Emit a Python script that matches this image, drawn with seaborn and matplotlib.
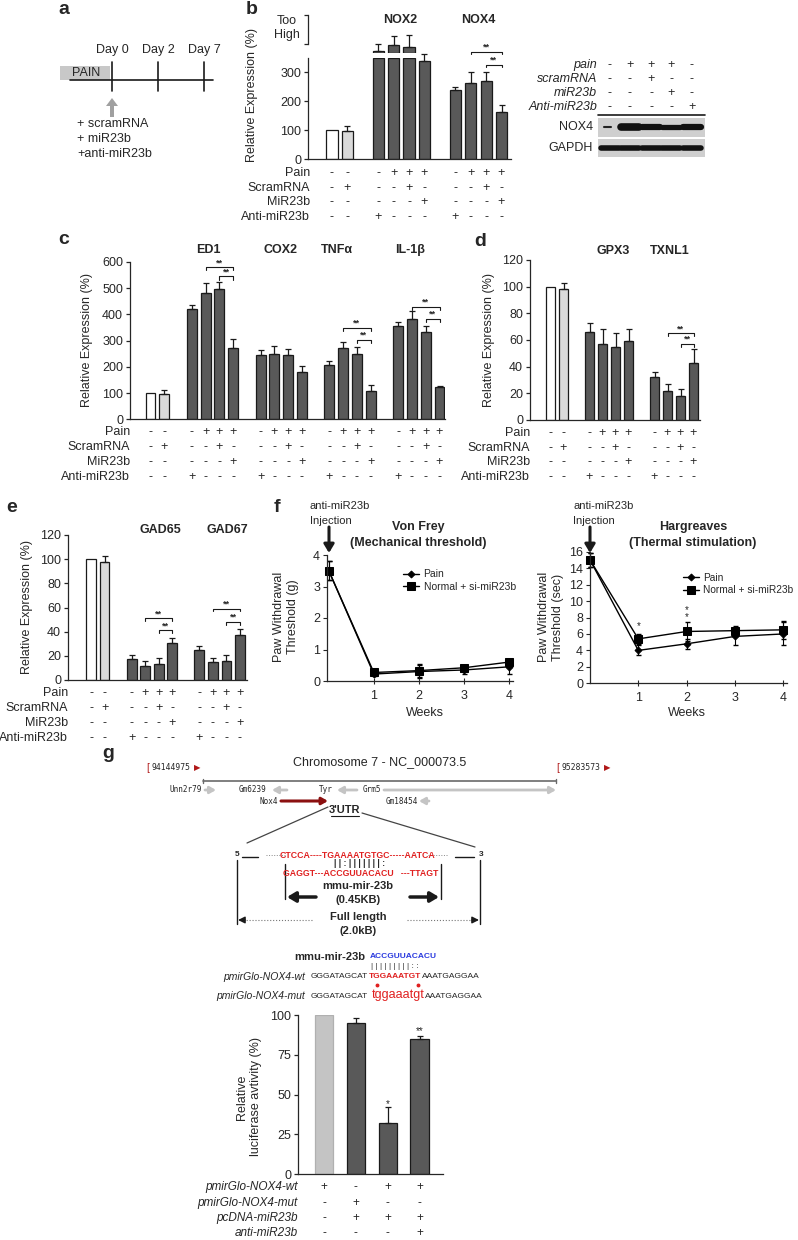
import numpy as np
import pandas as pd
import seaborn as sns
import matplotlib.pyplot as plt
from matplotlib import transforms

# ------------------------------ DATOS ------------------------------
# b: NOX2 / NOX4 (%); las tres primeras barras de NOX2 salen de escala ("Too High")
b_pos = [0, 1, 3, 4, 5, 6, 8, 9, 10, 11]
b_vals = [100, 97, 350, 350, 350, 338, 238, 263, 271, 162]
b_err = [0, 18, 0, 0, 0, 25, 12, 37, 32, 25]
b_over_pos = [3, 4, 5]
b_over_vals = [2.5, 8, 6]
b_over_err = [7, 9, 12]

# c: ED1, COX2, TNFa, IL-1b
c_pos = [0, 1, 3, 4, 5, 6, 8, 9, 10, 11, 13, 14, 15, 16, 18, 19, 20, 21]
c_vals = [100, 98, 420, 483, 497, 273, 245, 250, 245, 182, 207, 272, 250, 107, 357, 382, 332, 122]
c_err = [0, 15, 15, 35, 25, 32, 20, 30, 22, 22, 17, 22, 27, 22, 15, 30, 22, 5]

# d: GPX3, TXNL1
d_pos = [0, 1, 3, 4, 5, 6, 8, 9, 10, 11]
d_vals = [100, 98, 66, 57, 55, 59, 32, 22, 18, 43]
d_err = [0, 5, 7, 11, 10, 9, 4, 5, 5, 10]

# e: GAD65, GAD67
e_pos = [0, 1, 3, 4, 5, 6, 8, 9, 10, 11]
e_vals = [100, 98, 17, 12, 13, 31, 25, 15, 16, 37]
e_err = [0, 5, 4, 4, 5, 4, 3, 3, 5, 5]

# f: semanas tras la inyección
weeks = [0, 1, 2, 3, 4]
vf_pain = [3.5, 0.22, 0.30, 0.35, 0.45]
vf_pain_err = [0.3, 0.05, 0.2, 0.12, 0.22]
vf_si = [3.5, 0.27, 0.33, 0.42, 0.60]
vf_si_err = [0.3, 0.05, 0.2, 0.10, 0.10]
hg_pain = [15.0, 4.0, 4.8, 5.7, 6.0]
hg_pain_err = [0.8, 0.6, 0.6, 1.0, 1.4]
hg_si = [15.0, 5.4, 6.3, 6.4, 6.5]
hg_si_err = [0.8, 0.6, 1.2, 0.6, 1.1]

# g: luciferasa
g_pos = [0, 1, 2, 3]
g_vals = [100, 95, 32, 85]
g_err = [0, 3, 10, 2]

# tablas de condiciones
ctrl_pain, ctrl_scram, ctrl_mir, ctrl_anti = ['-', '-'], ['-', '+'], ['-', '-'], ['-', '-']
grp_pain, grp_scram, grp_mir, grp_anti = ['-', '+', '+', '+'], ['-', '-', '+', '-'], ['-', '-', '-', '+'], ['+', '-', '-', '-']
row_labels = ['Pain', 'ScramRNA', 'MiR23b', 'Anti-miR23b']

wb_labels = ['pain', 'scramRNA', 'miR23b', 'Anti-miR23b']
wb_rows = [['-', '+', '+', '+', '-'], ['-', '-', '+', '-', '-'],
           ['-', '-', '-', '+', '-'], ['-', '-', '-', '-', '+']]

g_labels = ['pmirGlo-NOX4-wt', 'pmirGlo-NOX4-mut', 'pcDNA-miR23b', 'anti-miR23b']
g_rows = [['+', '-', '+', '+'], ['-', '+', '-', '-'], ['-', '+', '+', '+'], ['-', '-', '-', '+']]

# ------------------------------ ESTILO ------------------------------
W, H = 798, 1240
sns.set_style('ticks')
plt.rcParams['font.family'] = ['Liberation Sans', 'DejaVu Sans']
plt.rcParams['axes.linewidth'] = 0.9
INK = '#1a1a1a'
PAL = {'normal': 'white', 'scram': '#dadada', 'treat': '#595959', 'wt': '#c4c4c4'}

fig = plt.figure(figsize=(W / 100, H / 100), dpi=100)
canvas = fig.add_axes([0, 0, 1, 1], zorder=5)
canvas.set_xlim(0, W)
canvas.set_ylim(H, 0)
canvas.axis('off')


def px_axes(left, top, right, bottom):
    ax = fig.add_axes([left / W, 1 - bottom / H, (right - left) / W, (bottom - top) / H])
    ax.patch.set_alpha(0)
    return ax


def kinds_for(pos):
    return ['normal', 'scram'] + ['treat'] * (len(pos) - 2)


def barras(ax, pos, vals, errs, kinds, width=0.72):
    df = pd.DataFrame({'pos': pos, 'val': vals, 'kind': kinds})
    sns.barplot(data=df, x='pos', y='val', hue='kind', palette=PAL, native_scale=True,
                dodge=False, width=width, errorbar=None, legend=False,
                edgecolor=INK, linewidth=0.9, ax=ax)
    sel = [i for i, e in enumerate(errs) if e > 0]
    ax.errorbar([pos[i] for i in sel], [vals[i] for i in sel],
                yerr=[[0] * len(sel), [errs[i] for i in sel]], fmt='none',
                ecolor=INK, elinewidth=0.9, capsize=2.2, capthick=0.9, clip_on=False)


def estilo(ax, yticks, xlim, ylim):
    ax.set_xlim(xlim)
    ax.set_ylim(ylim)
    ax.set_yticks(yticks)
    ax.set_xticks([])
    ax.set_xlabel('')
    ax.set_ylabel('')
    sns.despine(ax=ax)
    ax.tick_params(axis='y', labelsize=9, length=3, width=0.9, pad=2)


def xlim_px(ax_left, ax_right, p0, x0, p1, x1):
    unit = (x1 - x0) / (p1 - p0)
    return (p0 - (x0 - ax_left) / unit, p1 + (ax_right - x1) / unit)


def sig(ax, x1, x2, y, tick):
    ax.plot([x1, x1, x2, x2], [y - tick, y, y, y - tick], color=INK, lw=0.8, clip_on=False)
    ax.text((x1 + x2) / 2, y, '**', ha='center', va='bottom', fontsize=6.5,
            fontweight='bold', clip_on=False)


def tabla(ax, pos, rows, labels, ys, label_x, fs=9, italic=False):
    tr = transforms.blended_transform_factory(ax.transData, canvas.transData)
    for lab, row, y in zip(labels, rows, ys):
        canvas.text(label_x, y, lab, ha='right', va='center', fontsize=fs,
                    style='italic' if italic else 'normal')
        for p, s in zip(pos, row):
            ax.text(p, y, s, transform=tr, ha='center', va='center', fontsize=fs, clip_on=False)


def filas(n):
    return [ctrl_pain + grp_pain * n, ctrl_scram + grp_scram * n,
            ctrl_mir + grp_mir * n, ctrl_anti + grp_anti * n]


def ylab(x, y, s, fs=9):
    canvas.text(x, y, s, rotation=90, ha='center', va='center', fontsize=fs, linespacing=1.15)


def flecha(x1, y1, x2, y2, color=INK, lw=1.5, head='-|>,head_length=0.4,head_width=0.2'):
    canvas.annotate('', xy=(x2, y2), xytext=(x1, y1),
                    arrowprops=dict(arrowstyle=head, color=color, lw=lw, shrinkA=0, shrinkB=0))


# letras de panel
for lt, x, y in [('a', 64, 9), ('b', 252, 9), ('c', 64, 240), ('d', 480, 241),
                 ('e', 12, 508), ('f', 277, 508), ('g', 108, 753)]:
    canvas.text(x, y, lt, fontsize=14, fontweight='bold', ha='center', va='center')

# ------------------------------ a ------------------------------
canvas.add_patch(plt.Rectangle((60, 66), 50, 14, color='#c8c8c8', lw=0))
canvas.text(72, 73, 'PAIN', fontsize=9, va='center')
canvas.plot([70, 213], [80, 80], color=INK, lw=1.2)
for xd, lab in [(112, 'Day 0'), (158, 'Day 2'), (204, 'Day 7')]:
    canvas.plot([xd, xd], [62, 91], color=INK, lw=1.2)
    canvas.text(xd, 50, lab, fontsize=9, ha='center', va='center')
canvas.arrow(112, 117, 0, -19, width=4, head_width=12, head_length=8,
             length_includes_head=True, color='#a0a0a0', lw=0)
canvas.text(77, 124, '+ scramRNA', fontsize=9, va='center')
canvas.text(77, 139, '+ miR23b', fontsize=9, va='center')
canvas.text(77, 154, '+anti-miR23b', fontsize=9, va='center')

# ------------------------------ b ------------------------------
ax_b = px_axes(308, 58, 511, 159)
barras(ax_b, b_pos, b_vals, b_err, kinds_for(b_pos))
bx = xlim_px(308, 511, 0, 332, 11, 501.5)
estilo(ax_b, [0, 100, 200, 300], bx, (0, 350))
sig(ax_b, 9, 11, 372, 8)
sig(ax_b, 10, 11, 326, 8)

ax_bu = px_axes(308, 15, 511, 53)
barras(ax_bu, b_over_pos, b_over_vals, b_over_err, ['treat'] * 3)
estilo(ax_bu, [9, 38], bx, (0, 38))
ax_bu.set_yticklabels([])
ax_bu.spines['bottom'].set_visible(False)
ax_bu.spines['left'].set_bounds(9, 38)
canvas.text(287, 28, 'Too\nHigh', fontsize=9, ha='center', va='center', linespacing=1.3)
canvas.text(400, 20, 'NOX2', fontsize=9, fontweight='bold', ha='center', va='center')
canvas.text(478, 20, 'NOX4', fontsize=9, fontweight='bold', ha='center', va='center')
ylab(252, 95, 'Relative Expression (%)')
tabla(ax_b, b_pos, filas(2), row_labels, [173, 188, 202, 217], 310)

# western blot
wb_x = [610, 630, 651, 671, 692]
for lab, row, y in zip(wb_labels, wb_rows, [65, 79, 93, 107]):
    canvas.text(597, y, lab, fontsize=9, style='italic', ha='right', va='center')
    for x, s in zip(wb_x, row):
        canvas.text(x, y, s, fontsize=9, ha='center', va='center')
canvas.plot([598, 705], [115, 115], color=INK, lw=1.2)
canvas.add_patch(plt.Rectangle((598, 118), 107, 19, color='#cfcfcf', lw=0))
canvas.add_patch(plt.Rectangle((598, 139), 107, 18, color='#cfcfcf', lw=0))
canvas.text(593, 127, 'NOX4', fontsize=9, ha='right', va='center')
canvas.text(593, 148, 'GAPDH', fontsize=9, ha='right', va='center')
canvas.plot([604, 611], [127, 127], color='#222', lw=1.5, solid_capstyle='round')
for x, lw in zip(wb_x[1:], [5.5, 4.5, 3.8, 4.5]):
    canvas.plot([x - 9, x + 9], [127, 127], color='#111', lw=lw, solid_capstyle='round')
for x in wb_x:
    canvas.plot([x - 9, x + 9], [148, 148], color='#111', lw=4, solid_capstyle='round')

# ------------------------------ c ------------------------------
ax_c = px_axes(130, 262, 445, 419.3)
barras(ax_c, c_pos, c_vals, c_err, kinds_for(c_pos))
estilo(ax_c, range(0, 601, 100), xlim_px(130, 445, 0, 150.5, 21, 439.5), (0, 600))
sig(ax_c, 4, 6, 580, 12)
sig(ax_c, 5, 6, 545, 12)
sig(ax_c, 14, 16, 350, 12)
sig(ax_c, 15, 16, 303, 12)
sig(ax_c, 19, 21, 430, 12)
sig(ax_c, 20, 21, 383, 12)
for lab, x in [('ED1', 208), ('COX2', 280), ('TNF\u03b1', 337), ('IL-1\u03b2', 410)]:
    canvas.text(x, 250, lab, fontsize=9, fontweight='bold', ha='center', va='center')
ylab(87, 340, 'Relative Expression (%)')
tabla(ax_c, c_pos, filas(4), row_labels, [432, 447, 462, 477], 130)

# ------------------------------ d ------------------------------
ax_d = px_axes(530, 260, 700, 420)
barras(ax_d, d_pos, d_vals, d_err, kinds_for(d_pos))
estilo(ax_d, range(0, 121, 20), xlim_px(530, 700, 0, 550.5, 11, 693.5), (0, 120))
sig(ax_d, 9, 11, 65, 2.2)
sig(ax_d, 10, 11, 57, 2.2)
canvas.text(613, 251, 'GPX3', fontsize=9, fontweight='bold', ha='center', va='center')
canvas.text(670, 251, 'TXNL1', fontsize=9, fontweight='bold', ha='center', va='center')
ylab(489, 340, 'Relative Expression (%)')
tabla(ax_d, d_pos, filas(2), row_labels, [433, 448, 462, 477], 530)

# ------------------------------ e ------------------------------
ax_e = px_axes(68, 535, 247, 680)
barras(ax_e, e_pos, e_vals, e_err, kinds_for(e_pos))
estilo(ax_e, range(0, 121, 20), xlim_px(68, 247, 0, 91, 11, 240), (0, 120))
sig(ax_e, 4, 6, 51, 2.2)
sig(ax_e, 5, 6, 41, 2.2)
sig(ax_e, 9, 11, 59, 2.2)
sig(ax_e, 10, 11, 48, 2.2)
canvas.text(160, 530, 'GAD65', fontsize=9, fontweight='bold', ha='center', va='center')
canvas.text(227, 530, 'GAD67', fontsize=9, fontweight='bold', ha='center', va='center')
ylab(27, 607, 'Relative Expression (%)')
tabla(ax_e, e_pos, filas(2), row_labels, [693, 708, 723, 738], 68)


# ------------------------------ f ------------------------------
def curvas(ax, pain, pain_err, si, si_err):
    sns.lineplot(x=weeks, y=pain, marker='D', markersize=3.5, color='black', lw=1,
                 markeredgecolor='black', label='Pain', ax=ax, clip_on=False)
    sns.lineplot(x=weeks, y=si, marker='s', markersize=5.5, color='black', lw=1,
                 markeredgecolor='black', label='Normal + si-miR23b', ax=ax, clip_on=False)
    ax.errorbar(weeks, pain, yerr=pain_err, fmt='none', ecolor='black', elinewidth=0.8,
                capsize=1.8, clip_on=False)
    ax.errorbar(weeks, si, yerr=si_err, fmt='none', ecolor='black', elinewidth=0.8,
                capsize=1.8, clip_on=False)
    sns.despine(ax=ax)
    ax.set_xticks([1, 2, 3, 4])
    ax.tick_params(axis='x', direction='inout', length=5, labelsize=9, pad=4)
    ax.tick_params(axis='y', length=3, labelsize=9, pad=2)
    ax.set_xlabel('')
    ax.set_ylabel('')


ax_f1 = px_axes(327, 555, 513, 681)
curvas(ax_f1, vf_pain, vf_pain_err, vf_si, vf_si_err)
ax_f1.set_xlim(-0.04, 4.09)
ax_f1.set_ylim(0, 4)
ax_f1.set_yticks([0, 1, 2, 3, 4])
ax_f1.legend(frameon=False, fontsize=7.5, handlelength=1.6, loc='upper left',
             bbox_to_anchor=(0.385, 0.92), borderaxespad=0, labelspacing=0.25, handletextpad=0.4)

ax_f2 = px_axes(590, 551.7, 787, 683.3)
curvas(ax_f2, hg_pain, hg_pain_err, hg_si, hg_si_err)
ax_f2.set_xlim(0, 4.08)
ax_f2.set_ylim(0, 16)
ax_f2.set_yticks(range(0, 17, 2))
ax_f2.legend(frameon=False, fontsize=7.3, handlelength=1.6, loc='upper left',
             bbox_to_anchor=(0.45, 0.87), borderaxespad=0, labelspacing=0.25, handletextpad=0.4)
ax_f2.text(1, 6.9, '*', ha='center', va='center', fontsize=7)
ax_f2.text(2, 8.5, '*\n*', ha='center', va='center', fontsize=7, linespacing=0.55)

for x0, xt in [(329, 310), (590, 573)]:
    canvas.text(xt, 506, 'anti-miR23b', fontsize=8, va='center')
    canvas.text(xt, 521, 'Injection', fontsize=8, va='center')
    flecha(x0, 527, x0, 553, lw=2.2, head='-|>,head_length=0.5,head_width=0.3')
canvas.text(418, 527, 'Von Frey', fontsize=9, fontweight='bold', ha='center', va='center')
canvas.text(418, 543, '(Mechanical threshold)', fontsize=9, fontweight='bold', ha='center', va='center')
canvas.text(693, 527, 'Hargreaves', fontsize=9, fontweight='bold', ha='center', va='center')
canvas.text(693, 543, '(Thermal stimulation)', fontsize=9, fontweight='bold', ha='center', va='center')
canvas.text(425, 713, 'Weeks', fontsize=9, ha='center', va='center')
canvas.text(687, 713, 'Weeks', fontsize=9, ha='center', va='center')
ylab(286, 617, 'Paw Withdrawal\nThreshold (g)')
ylab(551, 617, 'Paw Withdrawal\nThreshold (sec)')

# ------------------------------ g: cromosoma ------------------------------
RED = '#b01818'
MONO = ['DejaVu Sans Mono']
canvas.text(380, 762, 'Chromosome 7 - NC_000073.5', fontsize=9, ha='center', va='center')
for xb, lab in [(146, '94144975'), (556, '95283573')]:
    canvas.text(xb, 768, '[', color=RED, fontsize=7, ha='left', va='center')
    canvas.text(xb + 5, 768, lab, fontsize=5.8, family=MONO, ha='left', va='center')
    canvas.text(xb + 48, 768, '\u25b6', color=RED, fontsize=6, ha='left', va='center', family=['DejaVu Sans'])
canvas.plot([203, 556], [781, 781], color='#6a6a6a', lw=1.2)
canvas.plot([203, 203], [779, 783], color='#6a6a6a', lw=1)
canvas.plot([556, 556], [779, 783], color='#6a6a6a', lw=1)
genes = [('Unn2r79', 202, 790, 205, 216), ('Gm6239', 266, 790, 287, 272),
         ('Tyr', 333, 790, 357, 337), ('Grm5', 381, 790, 384, 556),
         ('Gm18454', 418, 801, 429, 419)]
for name, xr, y, xa, xb in genes:
    canvas.text(xr, y, name, fontsize=5.5, family=MONO, ha='right', va='center')
    flecha(xa, y, xb, y, color='#c4c4c4', lw=2, head='-|>,head_length=0.35,head_width=0.2')
canvas.text(278, 801, 'Nox4', fontsize=5.5, family=MONO, ha='right', va='center')
flecha(281, 801, 328, 801, color='#8b1010', lw=2.2, head='-|>,head_length=0.35,head_width=0.2')
canvas.text(345, 810, "3'UTR", fontsize=8, fontweight='bold', ha='center', va='center')
canvas.plot([331, 359], [816, 816], color=INK, lw=0.8)
canvas.plot([328, 247], [807, 843], color='#444', lw=0.9)
canvas.plot([362, 475], [813, 847], color='#444', lw=0.9)

canvas.text(237, 854, '5', fontsize=6, fontweight='bold', ha='center', va='center')
canvas.text(481, 854, '3', fontsize=6, fontweight='bold', ha='center', va='center')
canvas.plot([242, 258], [857, 857], color=INK, lw=1)
canvas.plot([455, 474], [857, 857], color=INK, lw=1)
canvas.plot([266, 285], [855, 855], color='#888', lw=0.7, ls=':')
canvas.plot([428, 448], [855, 855], color='#888', lw=0.7, ls=':')
canvas.text(357, 855, 'CTCCA----TGAAAATGTGC-----AATCA', color='#e02020', fontsize=6.3,
            fontweight='bold', ha='center', va='center')
canvas.text(360, 864, ' '.join('||:|||||||:'), fontsize=6.3, fontweight='bold', ha='center', va='center')
canvas.text(361, 874, 'GAGGT---ACCGUUACACU   ---TTAGT', color='#e02020', fontsize=6.3,
            fontweight='bold', ha='center', va='center')
canvas.text(358, 886, 'mmu-mir-23b', fontsize=8, fontweight='bold', ha='center', va='center')
canvas.text(358, 900, '(0.45KB)', fontsize=8, fontweight='bold', ha='center', va='center')
canvas.plot([285, 285], [864, 899], color=INK, lw=1)
canvas.plot([441, 441], [864, 899], color=INK, lw=1)
flecha(316, 897, 287, 897, lw=2.5, head='-|>,head_length=0.5,head_width=0.3')
flecha(410, 897, 439, 897, lw=2.5, head='-|>,head_length=0.5,head_width=0.3')
canvas.plot([237, 237], [860, 924], color=INK, lw=1)
canvas.plot([480, 480], [860, 924], color=INK, lw=1)
canvas.plot([312, 244], [920, 920], color='#777', lw=0.8, ls=':')
canvas.plot([407, 473], [920, 920], color='#777', lw=0.8, ls=':')
flecha(245, 920, 238, 920, lw=1, head='-|>,head_length=0.4,head_width=0.2')
flecha(472, 920, 479, 920, lw=1, head='-|>,head_length=0.4,head_width=0.2')
canvas.text(358, 917, 'Full length', fontsize=8, fontweight='bold', ha='center', va='center')
canvas.text(358, 931, '(2.0kB)', fontsize=8, fontweight='bold', ha='center', va='center')

# secuencias wt / mut
canvas.text(365, 957, 'mmu-mir-23b', fontsize=8, fontweight='bold', ha='right', va='center')
canvas.text(370, 957, 'ACCGUUACACU', fontsize=6, fontweight='bold', color='#2a3adf', ha='left', va='center')
canvas.text(371, 966, ' '.join('|||||||||::'), fontsize=6, ha='left', va='center')
canvas.text(305, 977, 'pmirGlo-NOX4-wt', fontsize=7.5, style='italic', ha='right', va='center')
canvas.text(311, 977, 'GGGATAGCAT', fontsize=6, ha='left', va='center')
canvas.text(369, 977, 'TGGAAATGT', fontsize=6, fontweight='bold', color='#e02020', ha='left', va='center')
canvas.text(422, 977, 'AAATGAGGAA', fontsize=6, ha='left', va='center')
canvas.plot([377, 418], [985, 985], ls='none', marker='o', markersize=1.8, color='#e02020')
canvas.text(305, 996, 'pmirGlo-NOX4-mut', fontsize=7.5, style='italic', ha='right', va='center')
canvas.text(311, 996, 'GGGATAGCAT', fontsize=6, ha='left', va='center')
canvas.text(372, 995, 'tggaaatgt', fontsize=9, color='#e02020', ha='left', va='center')
canvas.text(425, 996, 'AAATGAGGAA', fontsize=6, ha='left', va='center')

# ------------------------------ g: luciferasa ------------------------------
ax_g = px_axes(298, 1015, 443, 1174.3)
barras(ax_g, g_pos, g_vals, g_err, ['wt', 'treat', 'treat', 'treat'], width=0.57)
ax_g.patches[0].set_edgecolor('#b0b0b0')
estilo(ax_g, [0, 25, 50, 75, 100], xlim_px(298, 443, 0, 324, 3, 419.5), (0, 100))
ax_g.text(2, 44, '*', ha='center', va='center', fontsize=7)
ax_g.text(3, 90, '**', ha='center', va='center', fontsize=7)
ylab(249, 1097, 'Relative\nluciferase avtivity (%)')
tabla(ax_g, g_pos, g_rows, g_labels, [1187, 1203, 1218, 1233], 298, fs=8.5, italic=True)

fig.savefig('out.png', dpi=100)
